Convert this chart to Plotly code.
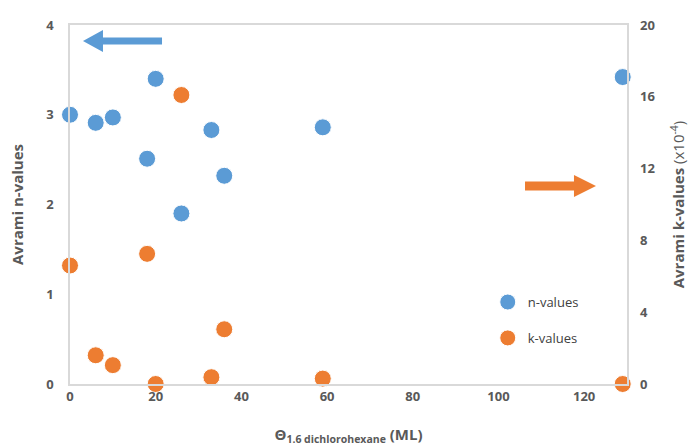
import plotly.graph_objects as go

# Data
theta = [0, 6, 10, 18, 20, 26, 33, 36, 59, 129]
n_values = [3.00, 2.91, 2.97, 2.51, 3.40, 1.90, 2.83, 2.32, 2.86, 3.42]
k_values = [6.6, 1.6, 1.05, 7.25, 0.0, 16.1, 0.38, 3.05, 0.3, 0.0]

x_ticks = [0, 20, 40, 60, 80, 100, 120]
n_ticks = [0, 1, 2, 3, 4]
k_ticks = [0, 4, 8, 12, 16, 20]

BLUE = "#5B9BD5"
ORANGE = "#ED7D31"
GREY = "#595959"
LINE = "#D9D9D9"
FONT = "Open Sans"

W, H = 688, 446
L, R, T, B = 70, 627, 25, 384


def px2paper(pts):
    out = []
    for x, y in pts:
        out.append(((x - L) / (R - L), (B - y) / (B - T)))
    return out


def path_from(pts):
    p = px2paper(pts)
    s = "M " + " L ".join(f"{x:.4f},{y:.4f}" for x, y in p) + " Z"
    return s


blue_arrow = [(83, 41), (103, 30), (103, 37.5), (162, 37.5), (162, 44.5), (103, 44.5), (103, 52)]
orange_arrow = [(596, 186), (574, 175), (574, 181.5), (525, 181.5), (525, 190.5), (574, 190.5), (574, 197)]

fig = go.Figure()
fig.add_trace(go.Scatter(
    x=theta, y=n_values, mode="markers", name="n-values",
    marker=dict(size=17, color=BLUE, line=dict(color="white", width=1)),
    cliponaxis=False, legendgroup="n", xaxis="x", yaxis="y"))
fig.add_trace(go.Scatter(
    x=theta, y=k_values, mode="markers", name="k-values",
    marker=dict(size=17, color=ORANGE, line=dict(color="white", width=1)),
    cliponaxis=False, legendgroup="k", xaxis="x", yaxis="y2"))

fig.update_layout(
    width=W, height=H,
    margin=dict(l=L, r=W - R, t=T, b=H - B, autoexpand=False),
    paper_bgcolor="white", plot_bgcolor="white",
    font=dict(family=FONT, color=GREY, size=13),
    showlegend=True,
    legend=dict(x=0.75, y=0.27, xanchor="left", yanchor="top",
                font=dict(size=13, color="#404040", family=FONT),
                tracegroupgap=16, traceorder="grouped", itemwidth=30,
                bgcolor="rgba(0,0,0,0)", itemsizing="trace"),
    xaxis=dict(range=[0, 130], tickvals=x_ticks, showgrid=False, zeroline=False,
               showline=True, linecolor=LINE, linewidth=1.5, mirror=True,
               ticks="", automargin=False,
               tickfont=dict(size=13, family=FONT, color=GREY, weight="bold"),
               title=dict(text="<b>Θ<sub>1.6 dichlorohexane</sub> (ML)</b>",
                          font=dict(size=15, family=FONT, color=GREY), standoff=26)),
    yaxis=dict(range=[0, 4], tickvals=n_ticks, showgrid=False, zeroline=False,
               showline=True, linecolor=LINE, linewidth=1.5, mirror=True,
               ticks="", ticklabelstandoff=12, automargin=False,
               tickfont=dict(size=13, family=FONT, color=GREY, weight="bold"),
               title=dict(text="<b>Avrami n-values</b>",
                          font=dict(size=15, family=FONT, color=GREY), standoff=19)),
    yaxis2=dict(range=[0, 20], tickvals=k_ticks, overlaying="y", side="right",
                showgrid=False, zeroline=False, showline=False, ticks="",
                ticklabelstandoff=12, automargin=False,
                tickfont=dict(size=13, family=FONT, color=GREY, weight="bold"),
                title=dict(text="<b>Avrami k-values</b> (x10<sup>-4</sup>)",
                           font=dict(size=15, family=FONT, color=GREY), standoff=19)),
    shapes=[
        dict(type="path", xref="paper", yref="paper", path=path_from(blue_arrow),
             fillcolor=BLUE, line=dict(width=0), layer="above"),
        dict(type="path", xref="paper", yref="paper", path=path_from(orange_arrow),
             fillcolor=ORANGE, line=dict(width=0), layer="above"),
    ],
)

fig.write_html("out.html")
